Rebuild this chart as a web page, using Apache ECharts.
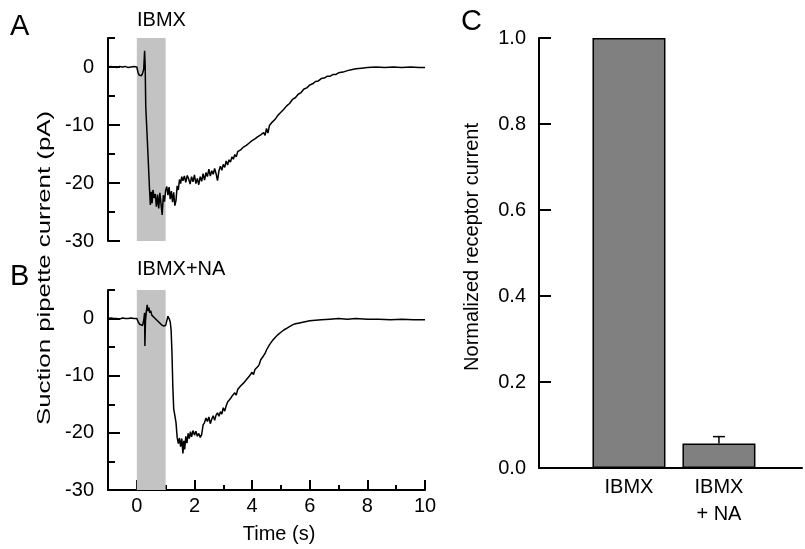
<!DOCTYPE html>
<html>
<head>
<meta charset="utf-8">
<script src="https://cdn.jsdelivr.net/npm/echarts@6/dist/echarts.min.js"></script>
<style>html,body{margin:0;padding:0;background:#fff}#c{width:805px;height:549px}</style>
</head>
<body>
<div id="c"></div>
<script>
// ---- Panel A: IBMX trace, [time (s), current (pA)]
var traceA = [
[-1.0,0],[-0.9,0.1],[-0.8,0],[-0.7,-0.1],[-0.6,0.1],[-0.5,0],[-0.4,0.1],[-0.3,-0.1],[-0.2,0],[-0.1,0.1],[0.0,0],
[0.04,-0.9],[0.08,-1.4],[0.12,-1.2],[0.16,-1.5],[0.2,-1.1],[0.24,-0.4],[0.27,2.8],[0.29,0.2],[0.31,-6.8],[0.35,-11],[0.40,-16.5],[0.44,-21],
[0.47,-23.8],[0.50,-21.5],[0.53,-23.5],[0.56,-21.2],[0.60,-22.6],[0.64,-21.9],[0.68,-24.1],[0.72,-22.0],[0.76,-24.4],[0.80,-21.7],[0.84,-23.6],
[0.88,-25.5],[0.92,-22.1],[0.96,-23.2],[1.00,-21.3],[1.04,-20.6],[1.08,-22.1],[1.12,-20.7],[1.16,-22.8],[1.20,-21.4],[1.24,-23.3],[1.28,-21.6],
[1.32,-23.9],[1.36,-23.0],[1.40,-20.5],[1.44,-21.2],[1.48,-19.4],[1.52,-20.1],[1.56,-18.9],[1.60,-19.6],[1.65,-18.8],[1.70,-19.9],[1.75,-18.7],
[1.80,-19.3],[1.85,-20.2],[1.90,-18.9],[1.95,-19.8],[2.00,-18.6],[2.05,-20.1],[2.10,-19.2],[2.15,-20.3],[2.20,-18.9],[2.25,-19.7],[2.30,-18.4],
[2.35,-19.5],[2.40,-18.2],[2.45,-18.9],[2.50,-17.6],[2.55,-18.8],[2.60,-17.9],[2.65,-18.5],[2.70,-17.5],[2.75,-18.4],[2.80,-19.6],[2.85,-17.9],
[2.90,-17.1],[2.95,-17.8],[3.00,-16.8],[3.05,-17.3],[3.10,-16.2],[3.15,-16.9],[3.20,-16.0],[3.25,-16.4],[3.30,-15.5],[3.35,-15.9],[3.40,-15.1],
[3.45,-15.5],[3.50,-14.6],[3.55,-14.9],[3.60,-14.3],[3.65,-14.6],[3.70,-13.8],[3.75,-14.1],[3.80,-13.5],[3.85,-13.8],[3.90,-13.1],[3.95,-13.3],
[4.00,-12.7],[4.05,-13.0],[4.10,-12.4],[4.15,-12.6],[4.20,-12.0],[4.25,-12.3],[4.30,-11.7],[4.35,-12.0],[4.40,-11.3],[4.45,-11.8],[4.50,-10.6],
[4.55,-11.4],[4.60,-10.1],[4.65,-10.3],[4.70,-9.5],[4.75,-9.8],[4.80,-9.0],[4.85,-9.1],[4.90,-8.3],[4.95,-8.4],[5.00,-7.8],[5.10,-7.3],[5.20,-6.7],
[5.30,-6.3],[5.40,-5.6],[5.50,-5.3],[5.60,-4.7],[5.70,-4.4],[5.80,-3.8],[5.90,-3.6],[6.00,-3.1],[6.10,-2.9],[6.20,-2.5],[6.30,-2.4],[6.40,-2.0],
[6.50,-1.9],[6.60,-1.6],[6.70,-1.6],[6.80,-1.3],[6.90,-1.3],[7.00,-1.0],[7.20,-0.8],[7.40,-0.5],[7.60,-0.3],[7.80,-0.2],[8.00,-0.1],[8.30,0],
[8.60,-0.1],[8.90,0],[9.20,-0.1],[9.50,0],[9.80,-0.1],[10.0,-0.1]
];

// ---- Panel B: IBMX+NA trace, [time (s), current (pA)]
var traceB = [
[-1.0,0],[-0.9,0.1],[-0.8,0],[-0.7,0],[-0.6,-0.1],[-0.5,0.1],[-0.4,0],[-0.3,0],[-0.2,0.1],[-0.1,0],[0.0,0],
[0.05,-0.6],[0.1,-1.0],[0.15,-0.7],[0.2,-1.2],[0.24,-0.3],[0.27,1.0],[0.28,-4.8],[0.30,-0.5],[0.33,1.2],[0.36,2.4],[0.39,1.3],[0.42,1.9],
[0.45,1.0],[0.48,1.4],[0.52,0.6],[0.56,0.9],[0.60,0.2],[0.64,0.5],[0.68,-0.2],[0.72,0.1],[0.76,-0.6],[0.80,-0.3],[0.84,-1.0],[0.88,-0.8],
[0.92,-1.3],[0.96,-1.0],[1.00,-1.2],[1.04,-0.4],[1.08,0.4],[1.12,0.0],[1.16,-0.6],[1.19,-2.0],[1.22,-6.0],[1.25,-12.0],[1.28,-15.8],[1.32,-17.0],
[1.36,-18.2],[1.40,-20.8],[1.44,-21.9],[1.48,-20.9],[1.52,-22.4],[1.56,-21.0],[1.60,-23.6],[1.63,-21.4],[1.66,-22.9],[1.70,-20.6],[1.74,-21.8],
[1.78,-20.1],[1.82,-21.0],[1.86,-19.8],[1.90,-20.7],[1.95,-19.6],[2.00,-20.4],[2.05,-19.7],[2.10,-20.6],[2.15,-20.1],[2.20,-20.8],[2.25,-20.3],
[2.30,-18.6],[2.35,-18.2],[2.40,-17.4],[2.45,-18.0],[2.50,-17.2],[2.55,-18.4],[2.60,-17.6],[2.65,-17.0],[2.70,-17.8],[2.75,-16.9],[2.80,-16.5],
[2.85,-17.1],[2.90,-16.3],[2.95,-16.7],[3.00,-15.6],[3.05,-16.2],[3.10,-15.3],[3.15,-14.6],[3.20,-14.9],[3.25,-14.0],[3.30,-13.6],[3.35,-13.9],
[3.40,-13.0],[3.45,-13.4],[3.50,-12.4],[3.55,-12.7],[3.60,-11.8],[3.65,-12.1],[3.70,-11.3],[3.75,-11.6],[3.80,-10.7],[3.85,-11.0],[3.90,-10.1],
[3.95,-10.3],[4.00,-9.4],[4.05,-9.8],[4.10,-8.9],[4.15,-9.1],[4.20,-8.4],[4.25,-8.0],[4.30,-7.2],[4.35,-7.1],[4.40,-6.5],[4.45,-6.1],[4.50,-5.5],
[4.60,-4.6],[4.70,-3.9],[4.80,-3.3],[4.90,-2.8],[5.00,-2.4],[5.10,-2.0],[5.20,-1.7],[5.30,-1.4],[5.40,-1.1],[5.50,-0.9],[5.60,-0.8],[5.80,-0.6],
[6.00,-0.4],[6.20,-0.3],[6.40,-0.2],[6.70,-0.1],[7.00,0],[7.30,-0.1],[7.60,0],[8.00,-0.1],[8.40,-0.1],[8.80,-0.2],[9.20,-0.1],[9.60,-0.2],[10.0,-0.2]
];

// ---- Drug application window (s)
var applyWindow = [0, 1];

// ---- Panel C: normalized receptor current
var barCategories = ['IBMX', 'IBMX\n+ NA'];
var barPositions = [1, 2];
var barValues = [1.0, 0.057];
var barErrors = [0, 0.016];

// ---- tick labels
var traceYLabels = [0, -10, -20, -30];
var traceYMajor = [-30, -20, -10, 0];
var timeLabels = [0, 2, 4, 6, 8, 10];

var FONT = 'Liberation Sans, Arial, sans-serif';

var chart = echarts.init(document.getElementById('c'), null, {renderer: 'canvas'});

var axisLineStyle = {color: '#000', width: 2};
var tickStyle = {color: '#000', width: 2};
var labelStyle = {color: '#000', fontSize: 20, fontFamily: FONT};

function traceYAxes(gridIndex) {
  return [
    {type: 'value', gridIndex: gridIndex, position: 'left', min: -30, max: 5, interval: 5,
     axisLine: {show: true, onZero: false, lineStyle: axisLineStyle},
     axisTick: {show: true, inside: true, length: 7, lineStyle: tickStyle},
     axisLabel: Object.assign({show: true, margin: 14, customValues: traceYLabels}, labelStyle),
     splitLine: {show: false}},
    {type: 'value', gridIndex: gridIndex, position: 'left', min: -30, max: 5,
     axisLine: {show: false, onZero: false},
     axisTick: {show: true, inside: true, length: 12, customValues: traceYMajor, lineStyle: tickStyle},
     axisLabel: {show: false}, splitLine: {show: false}}
  ];
}

var option = {
  animation: false,
  backgroundColor: '#fff',
  grid: [
    {left: 108, top: 38, width: 317, height: 203},
    {left: 108, top: 290, width: 317, height: 200},
    {left: 539, top: 38, width: 266, height: 430}
  ],
  xAxis: [
    {type: 'value', gridIndex: 0, min: -1, max: 10, show: false, axisLine: {onZero: false}},
    {type: 'value', gridIndex: 1, min: -1, max: 10, interval: 1, position: 'bottom',
     axisLine: {show: true, onZero: false, lineStyle: axisLineStyle},
     axisTick: {show: true, inside: true, length: 5, lineStyle: tickStyle},
     axisLabel: Object.assign({show: true, margin: 6, customValues: timeLabels}, labelStyle),
     splitLine: {show: false}},
    {type: 'value', gridIndex: 1, min: -1, max: 10, position: 'bottom',
     axisLine: {show: false, onZero: false},
     axisTick: {show: true, inside: true, length: 10, customValues: timeLabels, lineStyle: tickStyle},
     axisLabel: {show: false}, splitLine: {show: false}},
    {type: 'value', gridIndex: 2, min: 0, max: 2.923, interval: 1, position: 'bottom',
     axisLine: {show: true, onZero: false, lineStyle: axisLineStyle},
     axisTick: {show: false},
     axisLabel: Object.assign({show: true, margin: 6, lineHeight: 27,
       formatter: function (v) { var i = barPositions.indexOf(v); return i >= 0 ? barCategories[i] : ''; }}, labelStyle),
     splitLine: {show: false}}
  ],
  yAxis: traceYAxes(0).concat(traceYAxes(1)).concat([
    {type: 'value', gridIndex: 2, min: 0, max: 1, interval: 0.2, position: 'left',
     axisLine: {show: true, onZero: false, lineStyle: axisLineStyle},
     axisTick: {show: true, inside: true, length: 12, lineStyle: tickStyle},
     axisLabel: Object.assign({show: true, margin: 13, formatter: function (v) { return v.toFixed(1); }}, labelStyle),
     splitLine: {show: false}}
  ]),
  series: [
    {type: 'line', xAxisIndex: 0, yAxisIndex: 0, data: [], z: 1,
     markArea: {silent: true, itemStyle: {color: '#c3c3c3'}, data: [[{xAxis: applyWindow[0]}, {xAxis: applyWindow[1]}]]}},
    {type: 'line', xAxisIndex: 0, yAxisIndex: 0, data: traceA, z: 3,
     showSymbol: false, symbol: 'none', lineStyle: {color: '#000', width: 1.5}},
    {type: 'line', xAxisIndex: 1, yAxisIndex: 2, data: [], z: 1,
     markArea: {silent: true, itemStyle: {color: '#c3c3c3'}, data: [[{xAxis: applyWindow[0]}, {xAxis: applyWindow[1]}]]}},
    {type: 'line', xAxisIndex: 1, yAxisIndex: 2, data: traceB, z: 3,
     showSymbol: false, symbol: 'none', lineStyle: {color: '#000', width: 1.5}},
    {type: 'bar', xAxisIndex: 3, yAxisIndex: 4, barWidth: 73,
     data: barPositions.map(function (p, i) { return [p, barValues[i]]; }),
     itemStyle: {color: '#808080', borderColor: '#000', borderWidth: 1.5}},
    {type: 'custom', xAxisIndex: 3, yAxisIndex: 4, z: 5,
     data: barPositions.map(function (p, i) { return [p, barValues[i], barErrors[i]]; }),
     renderItem: function (params, api) {
       if (api.value(2) <= 0) return null;
       var base = api.coord([api.value(0), api.value(1)]);
       var top = api.coord([api.value(0), api.value(1) + api.value(2)]);
       var st = {stroke: '#000', lineWidth: 1.5};
       return {type: 'group', children: [
         {type: 'line', shape: {x1: base[0], y1: base[1], x2: top[0], y2: top[1]}, style: st},
         {type: 'line', shape: {x1: top[0] - 6, y1: top[1], x2: top[0] + 6, y2: top[1]}, style: st}
       ]};
     }}
  ],
  graphic: [
    {type: 'text', left: 10, top: 12, style: {text: 'A', font: '29px ' + FONT, fill: '#000'}},
    {type: 'text', left: 10, top: 262, style: {text: 'B', font: '29px ' + FONT, fill: '#000'}},
    {type: 'text', left: 461, top: 7, style: {text: 'C', font: '29px ' + FONT, fill: '#000'}},
    {type: 'text', left: 137, top: 10, style: {text: 'IBMX', font: '20px ' + FONT, fill: '#000'}},
    {type: 'text', left: 137, top: 259, style: {text: 'IBMX+NA', font: '20px ' + FONT, fill: '#000'}},
    {type: 'text', x: 279, y: 534, style: {text: 'Time (s)', font: '20px ' + FONT, fill: '#000', align: 'center', verticalAlign: 'middle'}},
    {type: 'text', x: 45, y: 268, rotation: Math.PI / 2, scaleX: 1.29, scaleY: 0.92,
     style: {text: 'Suction pipette current (pA)', font: '20px ' + FONT, fill: '#000', align: 'center', verticalAlign: 'middle'}},
    {type: 'text', x: 472, y: 247, rotation: Math.PI / 2, style: {text: 'Normalized receptor current', font: '20px ' + FONT, fill: '#000', align: 'center', verticalAlign: 'middle'}}
  ]
};
chart.setOption(option);
</script>
</body>
</html>
